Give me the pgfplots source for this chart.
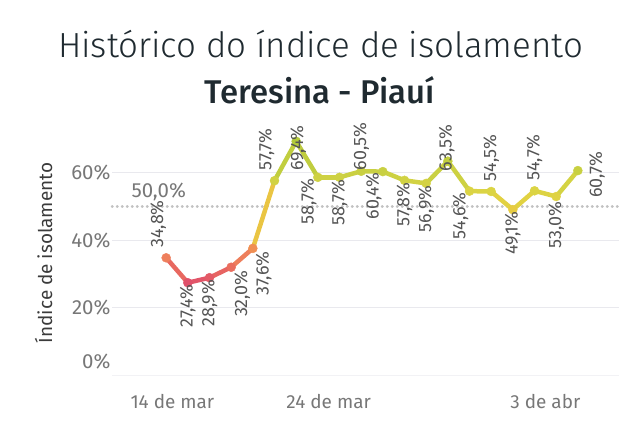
\documentclass[border=0pt]{standalone}
\usepackage{fontspec}
\setmainfont{Fira Sans}
\newfontfamily\lightfont{Fira Sans Light}
\newfontfamily\medfont{Fira Sans Medium}
\usepackage{pgfplots}
\usepackage{pgfplotstable}
\pgfplotsset{compat=1.18}
\definecolor{tickgray}{HTML}{777777}
\definecolor{labgray}{HTML}{555555}
\definecolor{gridgray}{HTML}{E9E9EE}
\definecolor{refgray}{HTML}{C2C2C2}
\definecolor{titlecol}{HTML}{1F2A30}
\pgfplotstableread{
x y
16.5 34.8
17.5 27.4
18.5 28.9
19.5 32.0
20.5 37.6
21.5 57.7
22.5 69.4
23.5 58.7
24.5 58.7
25.5 60.5
26.5 60.4
27.5 57.8
28.5 56.9
29.5 63.5
30.5 54.6
31.5 54.5
32.5 49.1
33.5 54.7
34.5 53.0
35.5 60.7
}\isodata
\pgfplotsset{lab/.style n args={3}{draw=none, mark=none, point meta=y, forget plot,
  nodes near coords={\pgfmathprintnumber[fixed,fixed zerofill,precision=1,use comma]{\pgfplotspointmeta}\%},
  nodes near coords style={xshift=#2bp, yshift=#3bp, rotate=90, anchor=#1, inner sep=0pt,
    font=\fontsize{18}{21}\selectfont, text=labgray}}}
\begin{document}
\begin{tikzpicture}[x=1bp,y=1bp]
\useasboundingbox (0,0) rectangle (640,428);
\node[anchor=base, text=titlecol] at (320.5,371) {\lightfont\fontsize{35}{40}\selectfont Histórico do índice de isolamento};
\node[anchor=base, text=titlecol] at (320,325) {\medfont\fontsize{33}{38}\selectfont Teresina - Piauí};
\begin{axis}[
  at={(112bp,53bp)}, anchor=south west,
  scale only axis, width=507bp, height=249.2bp,
  xmin=14, xmax=37.4, ymin=0, ymax=74,
  clip=false,
  axis line style={draw=none},
  major tick length=0pt,
  ymajorgrids,
  grid style={gridgray, line width=1bp},
  ytick={20,40,60},
  yticklabel={\pgfmathprintnumber{\tick}\%},
  extra y ticks={0},
  extra y tick style={yticklabel style={yshift=13bp}, grid style={gridgray!60, line width=1bp}},
  /pgf/number format/assume math mode=true,
  yticklabel style={font=\fontsize{20.5}{24}\selectfont, text=tickgray, anchor=east, xshift=2bp},
  xtick={24,34},
  xticklabels={24 de mar, 3 de abr},
  extra x ticks={14},
  extra x tick labels={14 de mar},
  extra x tick style={xticklabel style={anchor=base west, xshift=15bp}},
  xticklabel style={font=\fontsize{19}{23}\selectfont, text=tickgray, anchor=base, yshift=-33bp},
  ylabel={Índice de isolamento},
  ylabel style={at={(axis description cs:-0.135,0.49)}, anchor=center, font=\fontsize{19}{23}\selectfont, text=labgray!70!black},
  colormap={iso}{rgb255(0pt)=(224,80,106); rgb255(46pt)=(234,110,94); rgb255(76pt)=(238,128,92); rgb255(106pt)=(240,145,82); rgb255(176pt)=(238,185,70); rgb255(226pt)=(230,208,65); rgb255(276pt)=(218,212,68); rgb255(326pt)=(202,208,66); rgb255(420pt)=(178,202,58)},
  point meta min=27.4, point meta max=69.4,
]
\addplot[refgray, line width=2.5bp, line cap=round, dash pattern=on 0.5bp off 4.5bp, forget plot] coordinates {(14,50) (37.4,50)};
\node[anchor=base west, text=tickgray, font=\fontsize{20.5}{24}\selectfont] at (axis cs:14.74,52.6) {50,0\%};
\addplot[mesh, point meta=y, line width=4.5bp, line cap=round, line join=round] table[x=x,y=y] {\isodata};
\addplot[scatter, only marks, mark=*, mark size=4.5bp, point meta=y,
  scatter/use mapped color={draw=mapped color, fill=mapped color}] table[x=x,y=y] {\isodata};
% data labels
\addplot[lab={west}{-8}{10}] coordinates {(16.5,34.8) (21.5,57.7)};
\addplot[lab={west}{0}{10}] coordinates {(31.5,54.5) (33.5,54.7)};
\addplot[lab={west}{0}{1}] coordinates {(25.5,60.5)};
\addplot[lab={center}{2}{-7}] coordinates {(22.5,69.4)};
\addplot[lab={center}{-1}{13}] coordinates {(29.5,63.5)};
\addplot[lab={east}{0}{-2}] coordinates {(17.5,27.4) (18.5,28.9) (24.5,58.7) (27.5,57.8) (28.5,56.9) (32.5,49.1)};
\addplot[lab={east}{-9}{-1}] coordinates {(23.5,58.7) (26.5,60.4) (30.5,54.6)};
\addplot[lab={east}{11}{-3}] coordinates {(19.5,32.0) (20.5,37.6)};
\addplot[lab={east}{0}{-5}] coordinates {(34.5,53.0)};
\addplot[lab={north}{11}{-4}] coordinates {(35.5,60.7)};
\end{axis}
\end{tikzpicture}
\end{document}
